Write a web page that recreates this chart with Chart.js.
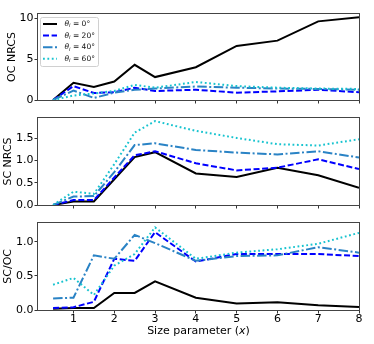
<!DOCTYPE html>
<html><head><meta charset="utf-8">
<script src="https://cdn.jsdelivr.net/npm/chart.js@4/dist/chart.umd.min.js"></script>
<style>
html,body{margin:0;padding:0;background:#fff;width:374px;height:344px;overflow:hidden}
canvas{position:absolute;left:0}
</style></head><body>
<canvas id="c1" width="374" height="110" style="top:0px"></canvas>
<canvas id="c2" width="374" height="105" style="top:110px"></canvas>
<canvas id="c3" width="374" height="129" style="top:215px"></canvas>
<script>
// ---- data ----
const sizeParam = [0.5, 1, 1.5, 2, 2.5, 3, 4, 5, 6, 7, 8];
const incAngles = [0, 20, 40, 60];
const xTickValues = [1, 2, 3, 4, 5, 6, 7, 8];

const ocNrcs0  = [0, 2.1, 1.6, 2.25, 4.3, 2.8, 4.0, 6.6, 7.25, 9.6, 10.1];
const ocNrcs20 = [0, 1.7, 0.85, 0.95, 1.5, 1.1, 1.25, 0.9, 1.05, 1.25, 0.95];
const ocNrcs40 = [0, 1.15, 0.25, 0.9, 1.25, 1.4, 1.65, 1.5, 1.4, 1.35, 1.25];
const ocNrcs60 = [0, 0.55, 0.8, 1.1, 1.85, 1.5, 2.2, 1.7, 1.5, 1.4, 1.35];
const ocTicks = [0, 5, 10];

const scNrcs0  = [0, 0.08, 0.08, 0.58, 1.08, 1.19, 0.71, 0.63, 0.84, 0.67, 0.39];
const scNrcs20 = [0, 0.11, 0.11, 0.62, 1.12, 1.21, 0.94, 0.78, 0.84, 1.03, 0.81];
const scNrcs40 = [0, 0.19, 0.2, 0.74, 1.35, 1.39, 1.24, 1.18, 1.14, 1.21, 1.07];
const scNrcs60 = [0, 0.3, 0.25, 0.92, 1.63, 1.89, 1.67, 1.51, 1.37, 1.34, 1.48];
const scTicks = [0, 0.5, 1.0, 1.5];

const ratio0  = [0.02, 0.03, 0.03, 0.25, 0.25, 0.42, 0.18, 0.095, 0.115, 0.07, 0.045];
const ratio20 = [0.03, 0.04, 0.12, 0.75, 0.72, 1.14, 0.71, 0.82, 0.82, 0.82, 0.79];
const ratio40 = [0.17, 0.18, 0.8, 0.75, 1.1, 0.98, 0.72, 0.79, 0.8, 0.92, 0.84];
const ratio60 = [0.37, 0.47, 0.22, 0.65, 0.82, 1.21, 0.75, 0.84, 0.89, 0.97, 1.13];
const ratioTicks = [0, 0.5, 1.0];

// ---- styles ----
const lineColors = ['#000000', '#0000ff', '#2a83c5', '#17c3cf'];
const lineDashes = [[], [6, 2.6], [9.5, 2.5, 2, 2.5], [1.8, 2.6]];
const FONT = 'DejaVu Sans';
const FS = 11;

function makeDatasets(series) {
  return series.map((vals, i) => ({
    label: 'θi = ' + incAngles[i] + '°',
    data: sizeParam.map((x, k) => ({x: x, y: vals[k]})),
    borderColor: lineColors[i],
    backgroundColor: lineColors[i],
    borderDash: lineDashes[i],
    borderWidth: 2,
    pointRadius: 0,
    tension: 0,
    fill: false,
    order: 3 - i
  }));
}

const framePlugin = {
  id: 'frame',
  afterDatasetsDraw(chart) {
    const a = chart.chartArea, ctx = chart.ctx;
    ctx.save();
    ctx.strokeStyle = '#444';
    ctx.lineWidth = 1;
    ctx.strokeRect(Math.round(a.left) - 0.5, Math.round(a.top) - 0.5,
                   Math.round(a.right - a.left) + 1, Math.round(a.bottom - a.top) + 1);
    ctx.restore();
  }
};

const legendPlugin = {
  id: 'thetaLegend',
  afterDraw(chart) {
    const ctx = chart.ctx, a = chart.chartArea;
    const x0 = a.left + 2.5, y0 = a.top + 3.5, w = 58, h = 49;
    ctx.save();
    ctx.beginPath();
    if (ctx.roundRect) ctx.roundRect(x0, y0, w, h, 2); else ctx.rect(x0, y0, w, h);
    ctx.fillStyle = 'rgba(255,255,255,0.85)';
    ctx.fill();
    ctx.strokeStyle = '#d0d0d0';
    ctx.lineWidth = 1;
    ctx.stroke();
    chart.data.datasets.forEach((ds, i) => {
      const y = y0 + 6.5 + i * 11.6;
      ctx.save();
      ctx.strokeStyle = ds.borderColor;
      ctx.lineWidth = 2;
      ctx.setLineDash(ds.borderDash);
      ctx.beginPath();
      ctx.moveTo(x0 + 2.5, y);
      ctx.lineTo(x0 + 16.5, y);
      ctx.stroke();
      ctx.restore();
      ctx.fillStyle = '#111';
      ctx.textBaseline = 'middle';
      ctx.textAlign = 'left';
      let tx = x0 + 24;
      ctx.font = 'italic 7.5px "' + FONT + '"';
      ctx.fillText('θ', tx, y);
      tx += ctx.measureText('θ').width;
      ctx.font = 'italic 5.3px "' + FONT + '"';
      ctx.fillText('i', tx, y + 2);
      tx += ctx.measureText('i').width;
      ctx.font = '7.5px "' + FONT + '"';
      ctx.fillText(' = ' + incAngles[i] + '°', tx, y);
    });
    ctx.restore();
  }
};

const xLabelPlugin = {
  id: 'xLabel',
  afterDraw(chart) {
    const ctx = chart.ctx, a = chart.chartArea;
    const parts = [['Size parameter (', ''], ['x', 'italic '], [')', '']];
    ctx.save();
    let total = 0;
    parts.forEach(p => { ctx.font = p[1] + FS + 'px "' + FONT + '"'; total += ctx.measureText(p[0]).width; });
    let x = (a.left + a.right) / 2 - total / 2;
    const y = chart.height - 13;
    ctx.fillStyle = '#000';
    ctx.textBaseline = 'middle';
    ctx.textAlign = 'left';
    parts.forEach(p => {
      ctx.font = p[1] + FS + 'px "' + FONT + '"';
      ctx.fillText(p[0], x, y);
      x += ctx.measureText(p[0]).width;
    });
    ctx.restore();
  }
};

function makePanel(id, series, yMax, yTicks, yTitle, titlePad, topPad, xHeight, showX, fmt, extra) {
  return new Chart(document.getElementById(id), {
    type: 'line',
    data: { datasets: makeDatasets(series) },
    options: {
      responsive: false,
      animation: false,
      events: [],
      devicePixelRatio: 1,
      layout: { padding: { left: 0, right: 15, top: topPad, bottom: 0 } },
      plugins: { legend: { display: false }, tooltip: { enabled: false }, title: { display: false } },
      scales: {
        x: {
          type: 'linear', min: 0.13, max: 8,
          afterBuildTicks: s => { s.ticks = xTickValues.map(v => ({value: v})); },
          ticks: {
            color: showX ? '#000' : 'rgba(0,0,0,0)',
            font: { family: FONT, size: FS, lineHeight: 1 },
            padding: 0, maxRotation: 0, autoSkip: false,
            callback: v => String(v)
          },
          grid: { drawOnChartArea: false, drawTicks: true, tickLength: 3.5, color: '#333' },
          border: { display: false },
          afterFit: s => { s.height = xHeight; }
        },
        y: {
          min: 0, max: yMax,
          afterBuildTicks: s => { s.ticks = yTicks.map(v => ({value: v})); },
          ticks: {
            color: '#000',
            font: { family: FONT, size: FS },
            padding: 1,
            callback: v => fmt(v)
          },
          grid: { drawOnChartArea: false, drawTicks: true, tickLength: 3.5, color: '#333' },
          border: { display: false },
          title: { display: true, text: yTitle, color: '#000', font: { family: FONT, size: FS }, padding: { top: titlePad, bottom: 0 } },
          afterFit: s => { s.width = 38; }
        }
      }
    },
    plugins: [framePlugin].concat(extra)
  });
}

const intFmt = v => String(Math.round(v));
const oneFmt = v => v.toFixed(1);

makePanel('c1', [ocNrcs0, ocNrcs20, ocNrcs40, ocNrcs60], 10.5, ocTicks, 'OC NRCS', 5.9, 14, 10, false, intFmt, [legendPlugin]);
makePanel('c2', [scNrcs0, scNrcs20, scNrcs40, scNrcs60], 1.96, scTicks, 'SC NRCS', 1.9, 8, 10, false, oneFmt, []);
makePanel('c3', [ratio0, ratio20, ratio40, ratio60], 1.28, ratioTicks, 'SC/OC', 1.9, 7, 34, true, oneFmt, [xLabelPlugin]);
</script>
</body></html>
